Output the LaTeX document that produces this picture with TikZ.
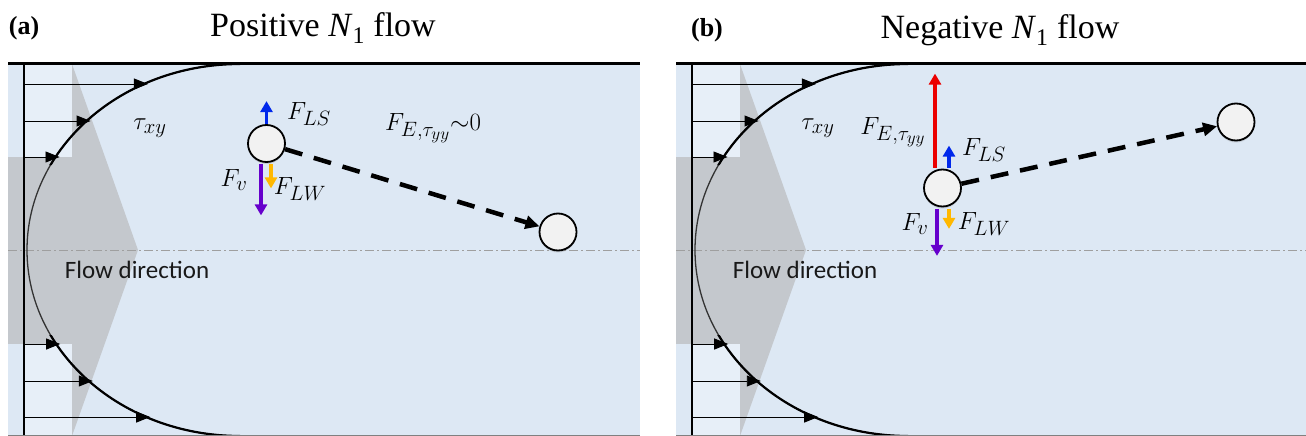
\documentclass[tikz,border=0pt]{standalone}
\usepackage{fontspec}
\setmainfont{Liberation Serif}
\newfontfamily\calibri{Carlito}
\usetikzlibrary{arrows.meta, positioning, calc, shadows}
\definecolor{cBack}{RGB}{221,232,244}
\definecolor{cLite}{RGB}{231,239,248}
\definecolor{cGray}{RGB}{196,200,205}
\definecolor{cBall}{RGB}{242,242,242}
\definecolor{cRed}{RGB}{235,0,0}
\definecolor{cBlue}{RGB}{0,40,235}
\definecolor{cPurple}{RGB}{102,0,204}
\definecolor{cYellow}{RGB}{255,184,0}
\tikzset{
	centre/.style ={gray!75, line width=0.8pt, dash pattern=on 9pt off 3pt on 2pt off 3pt},
	profile/.style={black!80, line width=1.3pt},
	vel/.style    ={black, line width=0.9pt, -{Triangle[length=14pt, width=11pt]}},
	ball/.style   ={circle, draw=black, line width=1.8pt, fill=cBall, minimum size=37pt, inner sep=0pt,
		drop shadow={opacity=0.25, shadow xshift=0pt, shadow yshift=-2pt}},
	force/.style  ={line width=3.5pt, -{Triangle[length=11pt, width=12pt]}},
	track/.style  ={line width=4.5pt, dash pattern=on 18pt off 12pt, -{Triangle[length=14pt, width=13pt]}},
	lbl/.style    ={font=\fontsize{24.88}{28}\selectfont, inner sep=0pt},
	title/.style  ={font=\fontsize{34}{38}\selectfont, inner sep=0pt},
	tag/.style    ={font=\fontsize{26}{30}\selectfont\bfseries, inner sep=0pt},
}
\begin{document}
\begin{tikzpicture}[x=1pt, y=-1pt]
	\useasboundingbox (0,0) rectangle (1306,436);
	\clip (0,0) rectangle (1306,436);
	% channel, plug flow arrow and velocity profile, same in both panels
	\foreach \ox in {0,668} {
		\fill[cBack] (\ox+8,64) rectangle (\ox+640,436);
		\fill[cLite] (\ox+24,64) rectangle (\ox+72,157);
		\fill[cLite] (\ox+24,344) rectangle (\ox+72,436);
		\fill[cGray] (\ox+8,157) rectangle (\ox+72,344);
		\fill[cGray] (\ox+72,64) -- (\ox+138,250) -- (\ox+72,436) -- cycle;
		\draw[centre] (\ox+8,250) -- (\ox+640,250);
		\begin{scope}
			\clip (\ox+8,60) rectangle (\ox+240,440);
			\draw[profile] (\ox+240,250) ellipse[x radius=213, y radius=186];
		\end{scope}
		\begin{scope}
			\clip (\ox+8,60) rectangle (\ox+240,165) (\ox+8,335) rectangle (\ox+240,440);
			\draw[profile, black, line width=2.2pt] (\ox+240,250) ellipse[x radius=213, y radius=186];
		\end{scope}
		\foreach \vy in {84,121,157,344,381,417} {
			\pgfmathsetmacro\ex{240-213*sqrt(1-((\vy-250)/186)^2)+4}
			\draw[vel] (\ox+24,\vy) -- (\ox+\ex,\vy);
		}
		\draw[black, line width=2pt] (\ox+24,64) -- (\ox+24,436);
		\draw[black, line width=3pt] (\ox+8,64) -- (\ox+640,64);
		\draw[gray, line width=1pt] (\ox+8,435.5) -- (\ox+640,435.5);
		\node[font=\fontsize{25}{28}\selectfont\calibri, text=black!90] at (\ox+137,270) {Flow direction};
		\node[lbl] at (\ox+150,128) {$\tau_{xy}$};
	}
	% (a) positive N1
	\node[tag] (tagA) at (24,28) {(a)};
	\node[title] (titA) at (323,28) {Positive \textit{N}\textsubscript{1} flow};
	\node[ball] (pA) at (266.5,143.5) {};
	\node[ball] (pA2) at (558,232) {};
	\draw[track] (pA) -- (pA2);
	\draw[force, cBlue] ([xshift=0pt]pA.north) -- ++(0,-23);
	\draw[force, cPurple] ([xshift=-5.5pt, yshift=-1.5pt]pA.south) -- ++(0,51);
	\draw[force, cYellow] ([xshift=4.5pt, yshift=-1.5pt]pA.south) -- ++(0,24);
	\node[lbl] at (309,114) {$F_{LS}$};
	\node[lbl] at (234,180) {$F_{v}$};
	\node[lbl] at (300,189) {$F_{LW}$};
	\node[lbl] at (433,128) {$F_{E,\tau_{yy}}{\sim}0$};
	% (b) negative N1
	\node[tag] (tagB) at (707,30) {(b)};
	\node[title] (titB) at (1000,30) {Negative \textit{N}\textsubscript{1} flow};
	\node[ball] (pB) at (942.5,188) {};
	\node[ball] (pB2) at (1236,122) {};
	\draw[track] (pB) -- (pB2);
	\draw[force, cRed] ([xshift=-7.5pt, yshift=1pt]pB.north) -- ++(0,-94);
	\draw[force, cBlue] ([xshift=6.5pt, yshift=1pt]pB.north) -- ++(0,-22);
	\draw[force, cPurple] ([xshift=-5.5pt, yshift=-1.5pt]pB.south) -- ++(0,47);
	\draw[force, cYellow] ([xshift=6.5pt, yshift=-1.5pt]pB.south) -- ++(0,20);
	\node[lbl] at (893,132) {$F_{E,\tau_{yy}}$};
	\node[lbl] at (984,150) {$F_{LS}$};
	\node[lbl] at (915,224) {$F_{v}$};
	\node[lbl] at (984,224) {$F_{LW}$};
\end{tikzpicture}
\end{document}
